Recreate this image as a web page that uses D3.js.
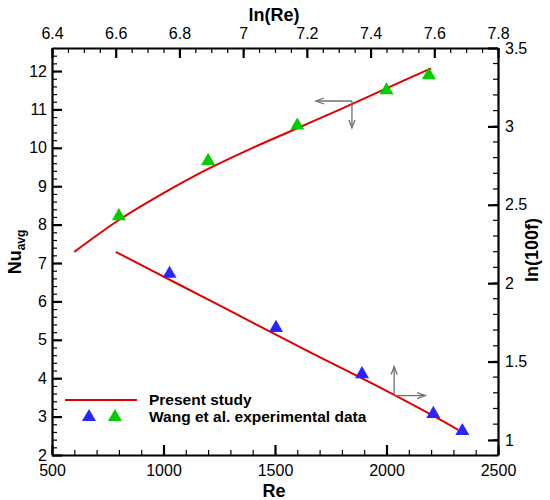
<!DOCTYPE html>
<html><head><meta charset="utf-8">
<script src="https://cdn.jsdelivr.net/npm/d3@7"></script>
<style>body{margin:0;background:#fff}svg{display:block}text{font-family:Arial,"Liberation Sans",sans-serif}</style>
</head><body>
<svg id="c" width="550" height="500"></svg>
<script>
// Upper curve: Nu_avg vs Re (bottom/left axes)
const reLine = [600, 800, 1000, 1200, 1400, 1600, 1800, 2000, 2200];
const nuLine = [7.29, 8.12, 8.82, 9.45, 10.0, 10.51, 11.02, 11.55, 12.07];
const reExp = [800, 1200, 1600, 2000, 2190];
const nuExp = [8.22, 9.66, 10.58, 11.50, 11.89];
// Lower curve: ln(100f) vs ln(Re) (top/right axes)
const lnReLine = [6.6, 6.8, 7.0, 7.2, 7.4, 7.6, 7.675];
const lnfLine = [2.20, 1.99, 1.78, 1.57, 1.365, 1.15, 1.064];
const lnReExp = [6.769, 7.103, 7.373, 7.597, 7.688];
const lnfExp = [2.06, 1.715, 1.42, 1.166, 1.057];
// Tick labels
const reTicks = [500, 1000, 1500, 2000, 2500];
const nuTicks = [2, 3, 4, 5, 6, 7, 8, 9, 10, 11, 12];
const lnReTicks = [6.4, 6.6, 6.8, 7.0, 7.2, 7.4, 7.6, 7.8];
const lnfTicks = [1, 1.5, 2, 2.5, 3, 3.5];
const legendLabels = ["Present study", "Wang et al. experimental data"];

const svg = d3.select("#c");
const L = 52, R = 498, T = 48, B = 455;
const x = d3.scaleLinear().domain([500, 2500]).range([L, R]);
const y = d3.scaleLinear().domain([2, 12.6]).range([B, T]);
const x2 = d3.scaleLinear().domain([6.4, 7.8]).range([L, R]);
const y2 = d3.scaleLinear().domain([0.904, 3.5]).range([B, T]);

const red = "#e00000", blue = "#2626ff", green = "#00cc00", grey = "#707070";
const fmt = d => (+d.toFixed(1)).toString();

function minor(dom, step) { const a = []; for (let v = dom[0]; v <= dom[1] + 1e-9; v += step) a.push(+v.toFixed(4)); return a; }

function drawAxis(gen, tr, major, minStep, scale, pad, fmtf) {
  const gMin = svg.append("g").attr("transform", tr)
    .call(gen(scale).tickValues(minor(scale.domain(), minStep)).tickSize(-5).tickSizeOuter(0).tickFormat(""));
  gMin.select(".domain").remove();
  gMin.selectAll("line").attr("stroke", "#000").attr("stroke-width", 1.2);
  const g = svg.append("g").attr("transform", tr)
    .call(gen(scale).tickValues(major).tickSize(-10).tickSizeOuter(0).tickPadding(pad).tickFormat(fmtf));
  g.select(".domain").attr("stroke", "#000").attr("stroke-width", 2.2);
  g.selectAll("line").attr("stroke", "#000").attr("stroke-width", 2.2);
  g.selectAll("text").attr("font-size", 16).attr("fill", "#000").attr("font-family", "Arial, 'Liberation Sans', sans-serif");
  return g;
}
drawAxis(d3.axisBottom, `translate(0,${B})`, reTicks, 100, x, 10, d3.format("d"));
drawAxis(d3.axisLeft, `translate(${L},0)`, nuTicks, 0.2, y, 5, d3.format("d"));
drawAxis(d3.axisTop, `translate(0,${T})`, lnReTicks, 0.05, x2, 9, fmt);
drawAxis(d3.axisRight, `translate(${R},0)`, lnfTicks, 0.1, y2, 7, fmt);

// Axis titles
svg.append("text").attr("x", 274).attr("y", 21).attr("text-anchor", "middle")
  .attr("font-size", 18).attr("font-weight", "bold").text("ln(Re)");
svg.append("text").attr("x", 274).attr("y", 497).attr("text-anchor", "middle")
  .attr("font-size", 18).attr("font-weight", "bold").text("Re");
const nuT = svg.append("text").attr("transform", "translate(21,252) rotate(-90)")
  .attr("text-anchor", "middle").attr("font-size", 18).attr("font-weight", "bold");
nuT.append("tspan").text("Nu");
nuT.append("tspan").attr("font-size", 12).attr("dy", 4).text("avg");
svg.append("text").attr("transform", "translate(538,250) rotate(-90)")
  .attr("text-anchor", "middle").attr("font-size", 18).attr("font-weight", "bold").text("ln(100f)");

// Lines
const line1 = d3.line().x(d => x(d[0])).y(d => y(d[1])).curve(d3.curveCatmullRom);
svg.append("path").datum(reLine.map((r, i) => [r, nuLine[i]])).attr("d", line1)
  .attr("fill", "none").attr("stroke", red).attr("stroke-width", 2);
const line2 = d3.line().x(d => x2(d[0])).y(d => y2(d[1])).curve(d3.curveCatmullRom);
svg.append("path").datum(lnReLine.map((r, i) => [r, lnfLine[i]])).attr("d", line2)
  .attr("fill", "none").attr("stroke", red).attr("stroke-width", 2);

// Markers
const tri = d3.symbol().type(d3.symbolTriangle).size(85);
svg.selectAll(".g").data(reExp.map((r, i) => [r, nuExp[i]])).join("path")
  .attr("d", tri).attr("transform", d => `translate(${x(d[0])},${y(d[1])})`).attr("fill", green);
svg.selectAll(".b").data(lnReExp.map((r, i) => [r, lnfExp[i]])).join("path")
  .attr("d", tri).attr("transform", d => `translate(${x2(d[0])},${y2(d[1])})`).attr("fill", blue);

// Arrows indicating axes
function arrow(x0, y0, dx, dy) {
  const x1 = x0 + dx, y1 = y0 + dy;
  const len = Math.hypot(dx, dy), ux = dx / len, uy = dy / len;
  const g = svg.append("g").attr("stroke", grey).attr("stroke-width", 1.3).attr("fill", "none");
  g.append("line").attr("x1", x0).attr("y1", y0).attr("x2", x1).attr("y2", y1);
  const hl = 8, hw = 3;
  g.append("path").attr("d", `M${x1 - ux * hl - uy * hw},${y1 - uy * hl + ux * hw}L${x1},${y1}L${x1 - ux * hl + uy * hw},${y1 - uy * hl - ux * hw}`);
}
arrow(x(1845), y(11.22), -36, 0);
arrow(x(1845), y(11.22), 0, 27);
arrow(x2(7.474), y2(1.283), 0, -29);
arrow(x2(7.474), y2(1.283), 31, 0);

// Legend
svg.append("line").attr("x1", 65).attr("x2", 137).attr("y1", 400).attr("y2", 400)
  .attr("stroke", red).attr("stroke-width", 2);
svg.append("path").attr("d", tri).attr("transform", "translate(89,417)").attr("fill", blue);
svg.append("path").attr("d", tri).attr("transform", "translate(115,417)").attr("fill", green);
svg.selectAll(".lg").data(legendLabels).join("text")
  .attr("x", 149).attr("y", (d, i) => 405 + i * 17)
  .attr("font-size", 15.5).attr("font-weight", "bold").text(d => d);
</script>
</body></html>
